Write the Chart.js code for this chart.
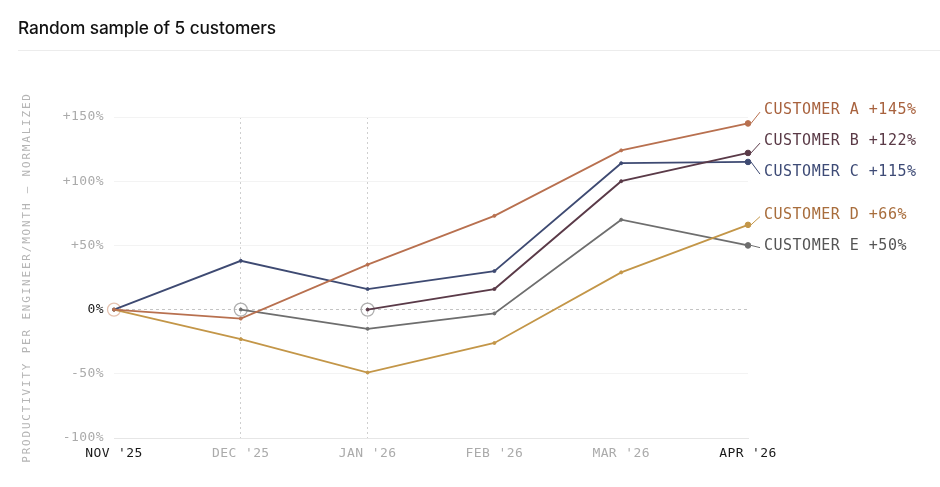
<!DOCTYPE html>
<html>
<head>
<meta charset="utf-8">
<script src="https://cdn.jsdelivr.net/npm/chart.js@4.4.1/dist/chart.umd.min.js"></script>
<style>
  html, body { margin: 0; padding: 0; background: #fff; }
  #wrap { position: relative; width: 940px; height: 487px; overflow: hidden; }
  #head { position: absolute; left: 18px; top: 0; right: 0; height: 50px; border-bottom: 1px solid #ececec; }
  #head h1 { margin: 0; position: absolute; top: 17px; left: 0; font: 500 17.3px Inter, "Noto Sans", sans-serif; color: #111; letter-spacing: -0.1px; }
  #box { position: absolute; left: 0; top: 0; width: 940px; height: 487px; }
</style>
</head>
<body>
<div id="wrap">
  <div id="box"><canvas id="myChart"></canvas></div>
  <div id="head"><h1>Random sample of 5 customers</h1></div>
</div>
<script>
var months = ["NOV '25", "DEC '25", "JAN '26", "FEB '26", "MAR '26", "APR '26"];
var names = ["CUSTOMER A", "CUSTOMER B", "CUSTOMER C", "CUSTOMER D", "CUSTOMER E"];
var custA = [0, -7, 35, 73, 124, 145];
var custB = [null, null, 0, 16, 100, 122];
var custC = [0, 38, 16, 30, 114, 115];
var custD = [0, -23, -49, -26, 29, 66];
var custE = [null, 0, -15, -3, 70, 50];
var startMarks = [0, 0, 0, null, null, null];
var yTicks = [-100, -50, 0, 50, 100, 150];

var lineColors = ['#b8704f', '#5a3a48', '#3e4a72', '#c39648', '#6e6e6e'];
var labelColors = ['#a8623e', '#5a3a46', '#3e4b76', '#a86d3c', '#555555'];
var ringColors = ['#e6c3b0', '#b0b0b0', '#b0b0b0'];
var mono = '"DejaVu Sans Mono", "Liberation Mono", monospace';

function makeSet(label, data, i) {
  return {
    label: label,
    data: data,
    borderColor: lineColors[i],
    backgroundColor: lineColors[i],
    pointBackgroundColor: lineColors[i],
    pointBorderColor: lineColors[i],
    borderWidth: 1.8,
    pointBorderWidth: 1,
    pointRadius: function (c) { return c.dataIndex == months.length - 1 ? 2.8 : 1.5; },
    tension: 0,
    fill: false
  };
}

var sets = [
  makeSet(names[0], custA, 0),
  makeSet(names[1], custB, 1),
  makeSet(names[2], custC, 2),
  makeSet(names[3], custD, 3),
  makeSet(names[4], custE, 4),
  {
    label: 'start',
    data: startMarks,
    showLine: false,
    pointRadius: 6.5,
    pointBorderWidth: 1.3,
    pointBackgroundColor: 'rgba(0,0,0,0)',
    pointBorderColor: ringColors
  }
];

// labels at the right end, pushed apart so they don't overlap
var endLabels = {
  id: 'endLabels',
  afterDatasetsDraw: function (chart) {
    var ctx = chart.ctx;
    var items = [];
    for (var i = 0; i < 5; i++) {
      var meta = chart.getDatasetMeta(i);
      var pt = meta.data[months.length - 1];
      var v = chart.data.datasets[i].data[months.length - 1];
      items.push({ i: i, px: pt.x, py: pt.y, y: pt.y - 5, text: names[i] + ' +' + v + '%' });
    }
    items.sort(function (a, b) { return a.y - b.y; });
    var gap = 31;
    for (var k = 0; k < 50; k++) {
      for (var j = 1; j < items.length; j++) {
        var d = items[j].y - items[j - 1].y;
        if (d < gap) {
          var push = (gap - d) / 2;
          items[j].y += push;
          items[j - 1].y -= push;
        }
      }
    }
    var lx = chart.chartArea.right + 16;
    ctx.save();
    ctx.font = '15px ' + mono;
    ctx.letterSpacing = '0.5px';
    ctx.textAlign = 'left';
    ctx.textBaseline = 'middle';
    items.forEach(function (it) {
      ctx.strokeStyle = lineColors[it.i];
      ctx.lineWidth = 1;
      ctx.beginPath();
      ctx.moveTo(it.px + 3, it.py);
      ctx.lineTo(lx - 4, it.y + 2);
      ctx.stroke();
      ctx.fillStyle = labelColors[it.i];
      ctx.fillText(it.text, lx, it.y);
    });
    ctx.restore();
  }
};

var yTitle = {
  id: 'yTitle',
  beforeDraw: function (chart) {
    chart.ctx.letterSpacing = '0.4px';
  },
  afterDraw: function (chart) {
    var ctx = chart.ctx;
    var a = chart.chartArea;
    ctx.save();
    ctx.translate(27, (a.top + a.bottom) / 2);
    ctx.rotate(-Math.PI / 2);
    ctx.font = '11px ' + mono;
    ctx.letterSpacing = '1.8px';
    ctx.fillStyle = '#b4b4b4';
    ctx.textAlign = 'center';
    ctx.textBaseline = 'middle';
    ctx.fillText('PRODUCTIVITY PER ENGINEER/MONTH \u2014 NORMALIZED', 0, 0);
    ctx.restore();
  }
};

new Chart("myChart", {
  type: 'line',
  data: { labels: months, datasets: sets },
  plugins: [endLabels, yTitle],
  options: {
    responsive: true,
    maintainAspectRatio: false,
    animation: false,
    layout: { padding: { top: 117, right: 192, left: 0, bottom: 0 } },
    plugins: {
      legend: { display: false },
      tooltip: { enabled: false }
    },
    scales: {
      x: {
        offset: false,
        afterFit: function (s) { s.height = 49; },
        grid: {
          drawTicks: false,
          color: function (c) { return (c.index == 1 || c.index == 2) ? '#cfcfcf' : 'rgba(0,0,0,0)'; },
          lineWidth: 1
        },
        border: { display: true, color: '#e6e6e6', dash: [2, 3] },
        ticks: {
          padding: 8,
          font: { family: mono, size: 13 },
          color: function (c) { return (c.index == 0 || c.index == months.length - 1) ? '#1a1a1a' : '#ababab'; }
        }
      },
      y: {
        min: -100,
        max: 150,
        afterFit: function (s) { s.width = 114; },
        afterBuildTicks: function (s) { s.ticks = yTicks.map(function (v) { return { value: v }; }); },
        grid: {
          drawTicks: false,
          color: function (c) {
            if (c.tick && c.tick.value == 0) return '#c4c4c4';
            if (c.tick && c.tick.value == -100) return '#e4e4e4';
            return '#f3f3f3';
          }
        },
        border: {
          display: false,
          dash: function (c) { return (c.tick && c.tick.value == 0) ? [3, 3] : []; }
        },
        ticks: {
          padding: 10,
          font: { family: mono, size: 13 },
          color: function (c) { return c.tick.value == 0 ? '#1a1a1a' : '#ababab'; },
          callback: function (v) { return (v > 0 ? '+' : '') + v + '%'; }
        }
      }
    }
  }
});
</script>
</body>
</html>
